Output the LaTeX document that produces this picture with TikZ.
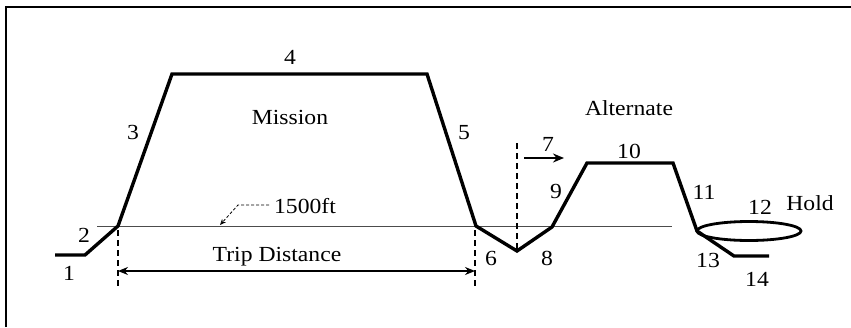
\documentclass[tikz,border=0pt]{standalone}
\usepackage{fontspec}
\setmainfont{Liberation Serif}[FakeStretch=1.1]
\usetikzlibrary{arrows.meta,shapes.geometric}
\begin{document}
\begin{tikzpicture}[x=1pt,y=-1pt,
  prof/.style={line width=3.4pt,line join=miter},
  guide/.style={line width=1.2pt,dash pattern=on 6pt off 4pt},
  lbl/.style={inner sep=0pt,font=\fontsize{21.5}{24}\selectfont},
  dim/.style={line width=1.3pt,{Stealth[length=10pt,width=8pt]}-{Stealth[length=10pt,width=8pt]}}]
\useasboundingbox (0,0) rectangle (851,327);
% frame (left and top only)
\coordinate (fbl) at (6,327);
\coordinate (ftl) at (6,7);
\coordinate (ftr) at (851,7);
\draw[line width=1.2pt] (fbl) -- (ftl) -- (ftr);
% profile points
\coordinate (p1a) at (55,255);
\coordinate (p1b) at (85,255);
\coordinate (p2) at (118,226);
\coordinate (p3) at (172,74);
\coordinate (p4) at (427,74);
\coordinate (p5) at (476,226);
\coordinate (p6) at (517,251);
\coordinate (p8) at (552,227);
\coordinate (p9) at (587,163);
\coordinate (p10) at (673,163);
\coordinate (p11) at (697,231);
\coordinate (p13) at (734,256);
\coordinate (p14) at (769,256);
% 1500ft line
\coordinate (la) at (97,226);
\coordinate (lb) at (672,226);
\draw[line width=0.9pt,black!70] (la) -- (lb);
% profile
\draw[prof] (p1a) -- (p1b) -- (p2) -- (p3) -- (p4) -- (p5) -- (p6) -- (p8) -- (p9) -- (p10) -- (p11) -- (p13) -- (p14);
% hold ellipse
\node[draw,ellipse,line width=2.8pt,minimum width=104pt,minimum height=19pt,inner sep=0pt] (hold) at (749,231) {};
% dashed verticals
\coordinate (d1a) at (118,230); \coordinate (d1b) at (118,287);
\coordinate (d2a) at (475,230); \coordinate (d2b) at (475,287);
\coordinate (d3a) at (517,143); \coordinate (d3b) at (517,251);
\draw[guide] (d1a) -- (d1b);
\draw[guide] (d2a) -- (d2b);
\draw[guide] (d3a) -- (d3b);
% trip distance arrow
\coordinate (ta) at (118,271);
\coordinate (tb) at (475,271);
\draw[dim] (ta) -- (tb);
% arrow 7
\coordinate (s7a) at (524,158);
\coordinate (s7b) at (564,158);
\draw[line width=1.8pt,-{Stealth[length=11pt,width=9pt]}] (s7a) -- (s7b);
% labels
\node[lbl] (t1500) at (305,206) {1500ft};
\coordinate (ld1) at (269,205);
\coordinate (ld2) at (238,205);
\coordinate (ld3) at (220,225);
\draw[line width=0.8pt,dash pattern=on 3pt off 2pt,-{Stealth[length=6pt,width=5pt,open]}] (ld1) -- (ld2) -- (ld3);
\node[lbl] (ttrip) at (277,257) {Trip Distance};
\node[lbl] (tmission) at (290,117) {Mission};
\node[lbl] (talt) at (629,108) {Alternate};
\node[lbl] (thold) at (810,203) {Hold};
\node[lbl] (n1) at (69,273) {1};
\node[lbl] (n2) at (84,235) {2};
\node[lbl] (n3) at (133,132) {3};
\node[lbl] (n4) at (290,57) {4};
\node[lbl] (n5) at (464,133) {5};
\node[lbl] (n6) at (491,258) {6};
\node[lbl] (n7) at (548,144) {7};
\node[lbl] (n8) at (547,258) {8};
\node[lbl] (n9) at (556,191) {9};
\node[lbl] (n10) at (629,151) {10};
\node[lbl] (n11) at (704,192) {11};
\node[lbl] (n12) at (760,207) {12};
\node[lbl] (n13) at (708,260) {13};
\node[lbl] (n14) at (757,279) {14};
\end{tikzpicture}
\end{document}
